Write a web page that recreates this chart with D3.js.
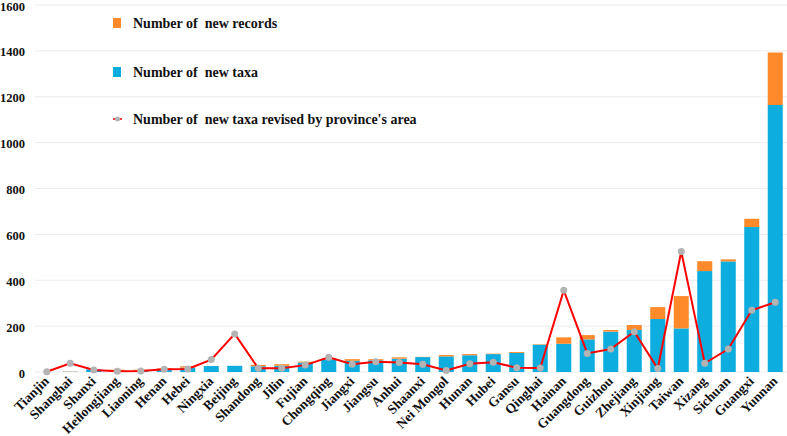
<!DOCTYPE html>
<html>
<head>
<meta charset="utf-8">
<script src="https://cdn.jsdelivr.net/npm/d3@7"></script>
<style>
  body { margin: 0; background: #fff; }
  text { font-family: "Liberation Serif", "Times New Roman", serif; font-weight: bold; fill: #111; }
</style>
</head>
<body>
<div id="container"></div>
<script>
const WIDTH = 787;
const HEIGHT = 436;

// data
const provinces = ['Tianjin', 'Shanghai', 'Shanxi', 'Heilongjiang', 'Liaoning', 'Henan', 'Hebei', 'Ningxia',
  'Beijing', 'Shandong', 'Jilin', 'Fujian', 'Chongqing', 'Jiangxi', 'Jiangsu', 'Anhui', 'Shaanxi',
  'Nei Mongol', 'Hunan', 'Hubei', 'Gansu', 'Qinghai', 'Hainan', 'Guangdong', 'Guizhou', 'Zhejiang',
  'Xinjiang', 'Taiwan', 'Xizang', 'Sichuan', 'Guangxi', 'Yunnan'];
const newTaxa = [0, 1, 12, 6, 6, 13, 19, 26, 27, 25, 27, 41, 55, 49, 51, 58, 65,
  68, 73, 78, 83, 119, 123, 142, 176, 183, 231, 190, 440, 482, 632, 1164];
const newRecords = [0, 1, 0, 4, 4, 3, 6, 0, 0, 6, 7, 4, 2, 7, 5, 6, 1,
  6, 5, 2, 4, 2, 28, 19, 7, 22, 52, 141, 43, 9, 36, 229];
const revisedByArea = [1, 38, 9, 3, 4, 12, 13, 54, 166, 16, 16, 30, 64, 34, 45, 41, 34,
  7, 36, 42, 19, 17, 356, 81, 100, 176, 15, 525, 38, 100, 269, 304];
const yTicks = [0, 200, 400, 600, 800, 1000, 1200, 1400, 1600];

const BLUE = '#0eaddf';
const ORANGE = '#ff8a2b';
const RED = '#ff0000';
const GREY = '#b3b3b3';

const rows = provinces.map((p, i) => ({
  name: p, taxa: newTaxa[i], records: newRecords[i], revised: revisedByArea[i]
}));

const svg = d3.select('#container')
  .append('svg')
    .attr('width', WIDTH)
    .attr('height', HEIGHT);

const x = d3.scaleBand()
  .domain(provinces)
  .range([35, 787])
  .paddingInner(0.36)
  .paddingOuter(0.18);

const y = d3.scaleLinear()
  .domain([0, 1600])
  .range([372, 5]);

// grid
svg.append('g')
  .selectAll('line')
  .data(yTicks)
  .enter()
  .append('line')
    .attr('x1', 35)
    .attr('x2', 787)
    .attr('y1', d => y(d))
    .attr('y2', d => y(d))
    .style('stroke', '#ececec')
    .style('stroke-width', 1);

// y axis labels (nudged 1px down so the top one is not clipped)
const yAxis = svg.append('g')
  .attr('transform', 'translate(25,1)')
  .call(d3.axisLeft(y).tickValues(yTicks).tickFormat(d3.format('d')).tickSize(0).tickPadding(0));
yAxis.select('.domain').remove();
yAxis.selectAll('text')
  .style('font-size', '12.5px')
  .style('font-family', '"Liberation Serif", "Times New Roman", serif')
  .style('font-weight', 'bold')
  .style('fill', '#111');

// stacked bars
const stack = d3.stack().keys(['taxa', 'records'])(rows);
const colors = { taxa: BLUE, records: ORANGE };

svg.append('g')
  .selectAll('g')
  .data(stack)
  .enter()
  .append('g')
    .style('fill', s => colors[s.key])
  .selectAll('rect')
  .data(s => s)
  .enter()
  .append('rect')
    .attr('x', d => x(d.data.name))
    .attr('width', x.bandwidth())
    .attr('y', d => y(d[1]))
    .attr('height', d => y(d[0]) - y(d[1]));

// x axis labels
const xAxis = svg.append('g')
  .attr('transform', 'translate(0,372)')
  .call(d3.axisBottom(x).tickSize(0).tickPadding(0));
xAxis.select('.domain').remove();
xAxis.selectAll('text')
  .attr('text-anchor', 'end')
  .attr('dy', 0)
  .attr('y', 0)
  .attr('transform', 'translate(3,10) rotate(-45)')
  .style('font-size', '13.5px')
  .style('font-family', '"Liberation Serif", "Times New Roman", serif')
  .style('font-weight', 'bold')
  .style('fill', '#111');

// revised line
const cx = d => x(d.name) + x.bandwidth() / 2;
const line = d3.line()
  .x(cx)
  .y(d => y(d.revised));

svg.append('path')
  .datum(rows)
  .attr('d', line)
  .style('fill', 'none')
  .style('stroke', RED)
  .style('stroke-width', 2);

svg.append('g')
  .selectAll('circle')
  .data(rows)
  .enter()
  .append('circle')
    .attr('cx', cx)
    .attr('cy', d => y(d.revised))
    .attr('r', 3.5)
    .style('fill', GREY);

// legend
const legendItems = [
  { label: 'Number of\u00a0 new records', type: 'rect', color: ORANGE, y: 23 },
  { label: 'Number of\u00a0 new taxa', type: 'rect', color: BLUE, y: 72 },
  { label: "Number of\u00a0 new taxa revised by province's area", type: 'line', color: RED, y: 119 }
];

const legend = svg.append('g')
  .selectAll('g')
  .data(legendItems)
  .enter()
  .append('g')
    .attr('transform', d => `translate(113, ${d.y})`);

legend.filter(d => d.type === 'rect')
  .append('rect')
    .attr('x', 0)
    .attr('y', -5)
    .attr('width', 8)
    .attr('height', 10)
    .style('fill', d => d.color);

legend.filter(d => d.type === 'line')
  .append('line')
    .attr('x1', 0)
    .attr('x2', 9)
    .style('stroke', RED)
    .style('stroke-width', 1.5);

legend.filter(d => d.type === 'line')
  .append('circle')
    .attr('cx', 4.5)
    .attr('r', 2.5)
    .style('fill', GREY);

legend.append('text')
  .attr('x', 20)
  .attr('y', 5)
  .style('font-size', '14px')
  .text(d => d.label);
</script>
</body>
</html>
